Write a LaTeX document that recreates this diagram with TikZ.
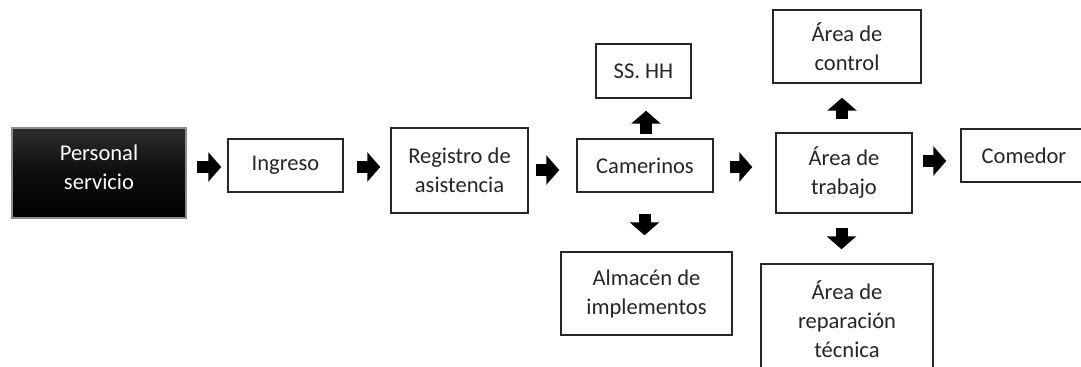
\documentclass[tikz,border=0pt]{standalone}
\usepackage{fontspec}
\setmainfont{Carlito}
\usetikzlibrary{arrows.meta}
\begin{document}
\begin{tikzpicture}[x=0.75pt,y=-0.75pt,
  box/.style={draw=black!85,line width=1.1pt,fill=white,align=center,inner sep=0pt,
    text=black!85,font=\fontsize{16.9}{21.75}\selectfont},
  darkbox/.style={draw=black!45,line width=0.8pt,top color=black!82,bottom color=black,middle color=black!95},
  wtext/.style={text=white,align=center,inner sep=0pt,font=\fontsize{16.9}{21.75}\selectfont},
  blk/.style={draw=black,line width=9pt,line cap=butt,-{Triangle[width=21.75pt,length=9.75pt]}}
]
\useasboundingbox (0,0) rectangle (1081,367);
\clip (0,0) rectangle (1081,367);
\fill[white] (0,0) rectangle (1081,367);

\node[darkbox,minimum width=174*0.75pt,minimum height=90*0.75pt] (ps) at (99,173) {};
\node[wtext] (pst) at ([shift={(0,-6)}]ps.center) {Personal\\servicio};

\node[box,minimum width=115*0.75pt,minimum height=53*0.75pt] (ing) at (285.5,165.5) {Ingreso};
\node[box,minimum width=137*0.75pt,minimum height=85*0.75pt] (reg) at (459.5,170.5) {Registro de\\asistencia};
\node[box,minimum width=136*0.75pt,minimum height=53*0.75pt] (cam) at (645,165.5) {Camerinos};
\node[box,minimum width=95*0.75pt,minimum height=54*0.75pt] (ss) at (643.5,71) {SS. HH};
\node[box,minimum width=171*0.75pt,minimum height=83*0.75pt] (alm) at (646.5,293.5) {Almacén de\\implementos};
\node[box,minimum width=148*0.75pt,minimum height=73*0.75pt] (ctl) at (847,46.5) {Área de\\control};
\node[box,minimum width=136*0.75pt,minimum height=80*0.75pt] (tr) at (844,173) {Área de\\trabajo};
\node[box,minimum width=126*0.75pt,minimum height=53*0.75pt] (com) at (1024,155.5) {Comedor};
\node[box,minimum width=172*0.75pt,minimum height=110*0.75pt] (rep) at (847,319) {Área de\\reparación\\técnica};

% horizontal block arrows
\draw[blk,shorten <=7.5pt,shorten >=4.5pt] ([shift={(0,-6)}]ps.east) -- ([shift={(0,1.5)}]ing.west);
\draw[blk,shorten <=9.75pt,shorten >=7.5pt] ([shift={(0,1.5)}]ing.east) -- ([shift={(0,-3.5)}]reg.west);
\draw[blk,shorten <=5.25pt,shorten >=12.75pt] ([shift={(0,-0.5)}]reg.east) -- ([shift={(0,4.5)}]cam.west);
\draw[blk,shorten <=12pt,shorten >=17.25pt] ([shift={(0,1.5)}]cam.east) -- ([shift={(0,-6)}]tr.west);
\draw[blk,shorten <=7.5pt,shorten >=10.5pt] ([shift={(0,-12)}]tr.east) -- ([shift={(0,5.5)}]com.west);
% vertical block arrows
\draw[blk,shorten <=3pt,shorten >=9pt] ([shift={(1,0)}]cam.north) -- ([shift={(2.5,0)}]ss.south);
\draw[blk,shorten <=15.75pt,shorten >=12pt] ([shift={(-0.5,0)}]cam.south) -- ([shift={(-2,0)}]alm.north);
\draw[blk,shorten <=9.75pt,shorten >=10.5pt] ([shift={(-2,0)}]tr.north) -- ([shift={(-5,0)}]ctl.south);
\draw[blk,shorten <=10.5pt,shorten >=10.5pt] ([shift={(-2.5,0)}]tr.south) -- ([shift={(-5.5,0)}]rep.north);
\end{tikzpicture}
\end{document}
